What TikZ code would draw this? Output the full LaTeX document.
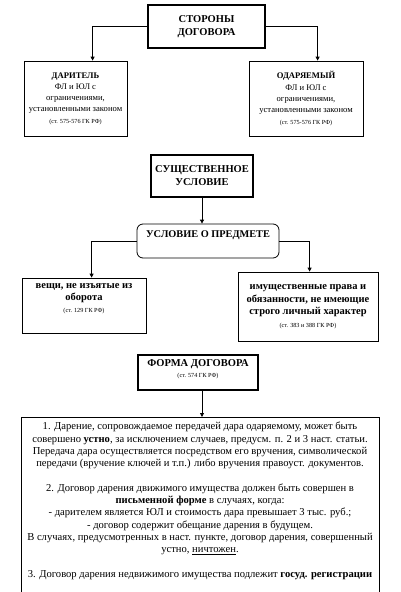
\documentclass[tikz,border=0pt]{standalone}
\usepackage{fontspec}
\setmainfont{Liberation Serif}
\usetikzlibrary{arrows.meta,calc}
\begin{document}
\begin{tikzpicture}[x=1pt,y=-1pt,
  box/.style={draw, line width=0.8pt, inner sep=0pt, align=center},
  thickbox/.style={box, line width=2pt},
  conn/.style={line width=0.8pt, -{Triangle[length=4pt,width=4pt]}},
  txt/.style={inner sep=0pt, align=center},
  title/.style={font=\bfseries\fontsize{10.5}{13}\selectfont},
  body/.style={font=\fontsize{8.6}{11.3}\selectfont}]
\useasboundingbox (0,0) rectangle (401,592);

% top
\node[thickbox, title, minimum width=117pt, minimum height=43pt] (sides) at (206.5,26.5) {СТОРОНЫ\\ДОГОВОРА};

\node[box, body, minimum width=103pt, minimum height=75pt] (giver) at (75.5,98.5)
  {\textbf{ДАРИТЕЛЬ}\\ФЛ и ЮЛ с\\ограничениями,\\установленными законом\\{\fontsize{6.2}{7}\selectfont (ст. 575-576 ГК РФ)}};
\node[box, body, minimum width=114pt, minimum height=75pt] (recv) at (306,98.5)
  {\textbf{ОДАРЯЕМЫЙ}\\ФЛ и ЮЛ с\\ограничениями,\\установленными законом\\{\fontsize{6.2}{7}\selectfont (ст. 575-576 ГК РФ)}};

\draw[conn] (sides.west) -| ($(giver.north west)+(69,0)$);
\draw[conn] (sides.east) -| ($(recv.north west)+(69,0)$);

% essential condition
\node[thickbox, title, minimum width=102pt, minimum height=42pt] (sus) at (202,176) {СУЩЕСТВЕННОЕ\\УСЛОВИЕ};
\node[box, rounded corners=6pt, minimum width=142pt, minimum height=34pt] (pred) at (208,241) {};
\node[txt, font=\bfseries\fontsize{10.3}{12}\selectfont] (predtext) at (208,235) {УСЛОВИЕ О ПРЕДМЕТЕ};
\draw[conn] (sus.south) -- (sus.south |- pred.north);

\node[box, minimum width=124pt, minimum height=55pt] (things) at (84,305.5) {};
\node[txt, font=\bfseries\fontsize{10.5}{12}\selectfont] (thingstext) at (84,299)
  {вещи, не изъятые из\\оборота\\{\mdseries\fontsize{6.2}{7}\selectfont (ст. 129 ГК РФ)}};
\node[box, minimum width=140pt, minimum height=69pt, font=\bfseries\fontsize{10.5}{12.5}\selectfont] (rights) at (308,306.5)
  {имущественные права и\\обязанности, не имеющие\\строго личный характер\\{\mdseries\fontsize{6.2}{7}\selectfont (ст. 383 и 388 ГК РФ)}};

\draw[conn] (pred.west) -| ($(things.north west)+(70,0)$);
\draw[conn] (pred.east) -| ($(rights.north west)+(72,0)$);

% form
\node[thickbox, minimum width=120pt, minimum height=35pt] (forma) at (198,372.5) {};
\node[txt, font=\bfseries\fontsize{10.5}{11}\selectfont] (formatext) at (198,369.5)
  {ФОРМА ДОГОВОРА\\{\mdseries\fontsize{6.2}{7}\selectfont (ст. 574 ГК РФ)}};

\node[box, minimum width=358pt, minimum height=185pt, anchor=north] (big) at (200,417) {};
\coordinate (fa) at ($(forma.south)+(4,0)$);
\draw[conn] (fa) -- (fa |- big.north);

\node[txt, anchor=north, font=\fontsize{10.6}{12.3}\selectfont] (bigtext) at (200,422)
  {1. Дарение, сопровождаемое передачей дара одаряемому, может быть\\
   совершено \textbf{устно}, за исключением случаев, предусм. п. 2 и 3 наст. статьи.\\
   Передача дара осуществляется посредством его вручения, символической\\
   передачи (вручение ключей и т.п.) либо вручения правоуст. документов.\\[12.3pt]
   2. Договор дарения движимого имущества должен быть совершен в\\
   \textbf{письменной форме} в случаях, когда:\\
   - дарителем является ЮЛ и стоимость дара превышает 3 тыс. руб.;\\
   - договор содержит обещание дарения в будущем.\\
   В случаях, предусмотренных в наст. пункте, договор дарения, совершенный\\
   устно, \underline{ничтожен}.\\[12.3pt]
   3. Договор дарения недвижимого имущества подлежит \textbf{госуд. регистрации}};
\end{tikzpicture}
\end{document}
